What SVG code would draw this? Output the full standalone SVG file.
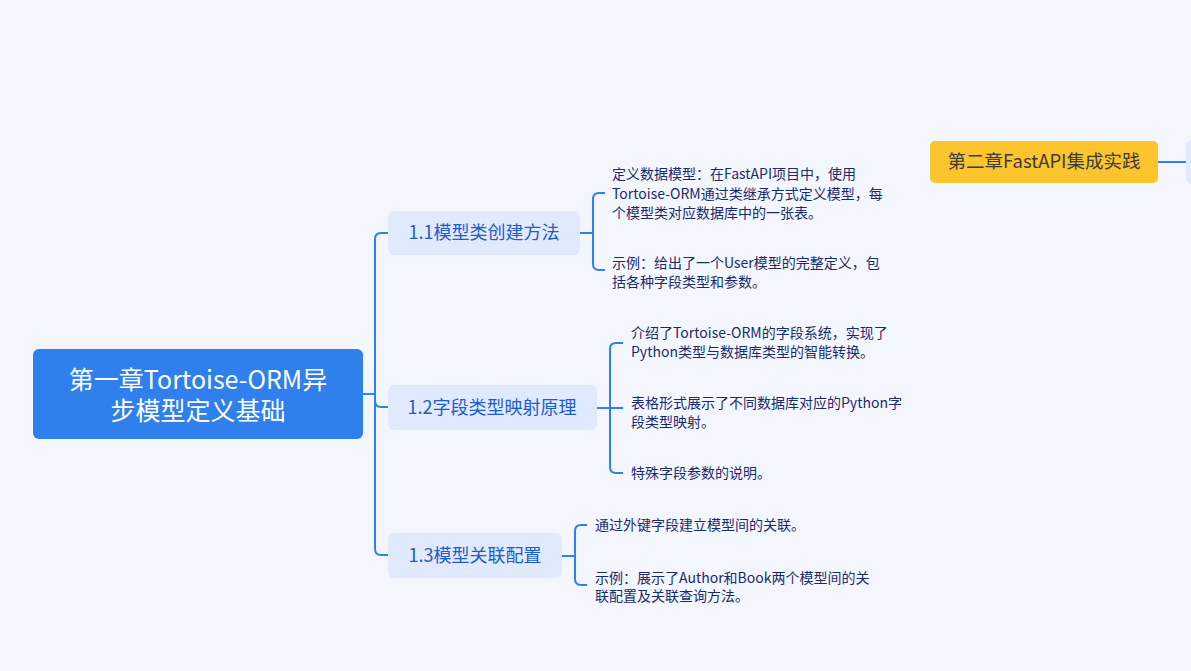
<svg xmlns="http://www.w3.org/2000/svg" width="1191" height="671" viewBox="0 0 1191 671">
<style>
.bg{fill:#f4f6fd}
.conn path{fill:none;stroke:#2f80ed;stroke-width:2}
.root rect{fill:#2f80ed}
.root text{fill:#ffffff;font-family:"Noto Sans CJK SC","Noto Sans",sans-serif;font-size:25px;text-anchor:middle}
.sub rect{fill:#e1eafc}
.sub text{fill:#1d5ccc;font-family:"Noto Sans CJK SC","Noto Sans",sans-serif;font-size:18px;text-anchor:middle}
.leaf text{fill:#1b2a6b;font-family:"Noto Sans CJK SC","Noto Sans",sans-serif;font-size:14px}
.ch2 rect{fill:#fcc52d}
.ch2 text{fill:#3b3b3b;font-family:"Noto Sans CJK SC","Noto Sans",sans-serif;font-size:18.5px;text-anchor:middle}
</style>
<rect class="bg" x="0" y="0" width="1191" height="671"/>
<g class="conn" id="connectors">
<path d="M363 394 H375"/>
<path d="M375 394 V239 Q375 233 381 233 H388"/>
<path d="M375 394 V401 Q375 407 381 407 H388"/>
<path d="M375 394 V549 Q375 555 381 555 H388"/>
<path d="M580 233 H593"/>
<path d="M593 233 V199 Q593 193 599 193 H605"/>
<path d="M593 233 V264 Q593 270 599 270 H605"/>
<path d="M597 408 H623"/>
<path d="M610 408 V349 Q610 343 616 343 H623"/>
<path d="M610 408 V467 Q610 473 616 473 H623"/>
<path d="M562 556 H575"/>
<path d="M575 556 V531 Q575 525 581 525 H587"/>
<path d="M575 556 V579 Q575 585 581 585 H587"/>
<path d="M1158 162 H1186"/>
</g>
<g class="root" id="root">
<rect x="33" y="349" width="330" height="90" rx="6"/>
<text x="198" y="389">第一章Tortoise-ORM异<tspan x="198" dy="31">步模型定义基础</tspan></text>
</g>
<g class="sub" id="n11">
<rect x="388" y="211" width="192" height="44" rx="6"/>
<text x="484" y="239">1.1模型类创建方法</text>
</g>
<g class="sub" id="n12">
<rect x="388" y="385" width="209" height="45" rx="6"/>
<text x="492" y="414">1.2字段类型映射原理</text>
</g>
<g class="sub" id="n13">
<rect x="388" y="533" width="174" height="45" rx="6"/>
<text x="475" y="562">1.3模型关联配置</text>
</g>
<g class="leaf" id="l111">
<text x="612" y="179">定义数据模型：在FastAPI项目中，使用</text>
<text x="612" y="199">Tortoise-ORM通过类继承方式定义模型，每</text>
<text x="612" y="218">个模型类对应数据库中的一张表。</text>
</g>
<g class="leaf" id="l112">
<text x="612" y="268">示例：给出了一个User模型的完整定义，包</text>
<text x="612" y="287">括各种字段类型和参数。</text>
</g>
<g class="leaf" id="l121">
<text x="631" y="338">介绍了Tortoise-ORM的字段系统，实现了</text>
<text x="631" y="357">Python类型与数据库类型的智能转换。</text>
</g>
<g class="leaf" id="l122">
<text x="631" y="408">表格形式展示了不同数据库对应的Python字</text>
<text x="631" y="427">段类型映射。</text>
</g>
<g class="leaf" id="l123">
<text x="631" y="478">特殊字段参数的说明。</text>
</g>
<g class="leaf" id="l131">
<text x="595" y="530">通过外键字段建立模型间的关联。</text>
</g>
<g class="leaf" id="l132">
<text x="595" y="583">示例：展示了Author和Book两个模型间的关</text>
<text x="595" y="601">联配置及关联查询方法。</text>
</g>
<g class="ch2" id="ch2">
<rect x="930" y="141" width="228" height="42" rx="5"/>
<text x="1044" y="168">第二章FastAPI集成实践</text>
</g>
<g class="sub" id="ch2child">
<rect x="1186" y="140" width="30" height="44" rx="6"/>
</g>
</svg>
